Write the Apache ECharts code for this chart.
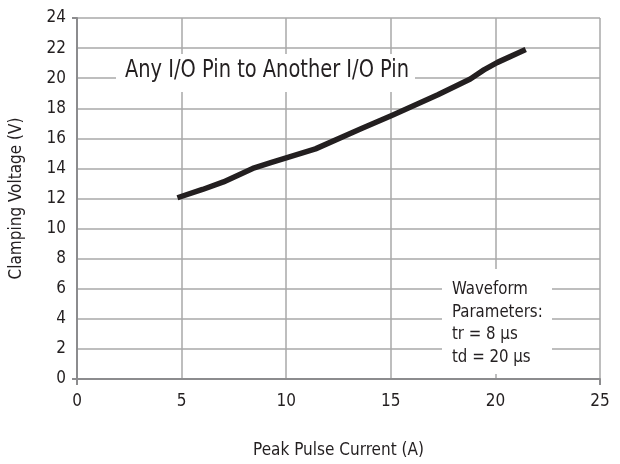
<!DOCTYPE html>
<html>
<head>
<meta charset="utf-8">
<script src="https://cdn.jsdelivr.net/npm/echarts@6/dist/echarts.min.js"></script>
<style>html,body{margin:0;padding:0;background:#fff}#c{width:620px;height:464px}</style>
</head>
<body>
<div id="c"></div>
<script>
// Data
const currentA = [4.8, 6.0, 7.0, 8.4, 9.3, 10.0, 11.4, 13.6, 15.1, 17.25, 18.8, 19.45, 20.1, 21.45];
const clampV   = [12.05, 12.6, 13.1, 14.0, 14.4, 14.7, 15.3, 16.65, 17.55, 18.9, 19.95, 20.55, 21.05, 21.9];
const xTitle = 'Peak Pulse Current (A)';
const yTitle = 'Clamping Voltage (V)';
const curveLabel = 'Any I/O Pin to Another I/O Pin';
const paramLines = ['Waveform', 'Parameters:', 'tr = 8 µs', 'td = 20 µs'];

const FONT = '"DejaVu Sans Condensed", "Liberation Sans Narrow", sans-serif';
const TXT = '#231f20';
const AXC = '#8c8c8e';
const GRC = '#a8a8a8';

const chart = echarts.init(document.getElementById('c'), null, {renderer: 'canvas'});
const grid = {left: 75, right: 20, top: 18, bottom: 81};
chart.setOption({
  animation: false,
  backgroundColor: '#fff',
  grid: grid,
  xAxis: [{
    type: 'value', min: 0, max: 25, interval: 5,
    name: xTitle, nameLocation: 'middle', nameGap: 63,
    nameTextStyle: {fontFamily: FONT, fontSize: 17, color: TXT},
    axisLine: {show: true, onZero: false, lineStyle: {color: AXC, width: 2}},
    axisTick: {show: false},
    axisLabel: {fontFamily: FONT, fontSize: 17, color: TXT, margin: 14},
    splitLine: {show: true, lineStyle: {color: GRC, width: 1.5}}
  }, {
    type: 'value', min: 0, max: 25, interval: 25, position: 'bottom',
    axisLine: {show: false}, axisLabel: {show: false}, splitLine: {show: false},
    axisTick: {show: true, inside: false, length: 6, lineStyle: {color: AXC, width: 2}}
  }],
  yAxis: [{
    type: 'value', min: 0, max: 24, interval: 2,
    name: yTitle, nameLocation: 'middle', nameGap: 52, nameRotate: 90,
    nameTextStyle: {fontFamily: FONT, fontSize: 17, color: TXT},
    axisLine: {show: true, onZero: false, lineStyle: {color: AXC, width: 2}},
    axisTick: {show: false},
    axisLabel: {fontFamily: FONT, fontSize: 17, color: TXT, margin: 11},
    splitLine: {show: true, lineStyle: {color: GRC, width: 1.5}}
  }, {
    type: 'value', min: 0, max: 24, interval: 24, position: 'left',
    axisLine: {show: false}, axisLabel: {show: false}, splitLine: {show: false},
    axisTick: {show: true, inside: false, length: 5, lineStyle: {color: AXC, width: 2}}
  }],
  series: [{
    type: 'line',
    xAxisIndex: 0, yAxisIndex: 0,
    data: currentA.map((x, i) => [x, clampV[i]]),
    showSymbol: false, symbol: 'none',
    lineStyle: {color: TXT, width: 5.5, cap: 'butt', join: 'round'},
    z: 5
  }],
  graphic: [
    {type: 'rect', left: 116, top: 54, shape: {width: 299, height: 38}, style: {fill: '#fff'}, z: 3},
    {type: 'text', x: 125, y: 59, scaleX: 0.9, style: {text: curveLabel, font: '24px ' + FONT, fill: TXT}, z: 4},
    {type: 'rect', left: 442, top: 269, shape: {width: 110, height: 105}, style: {fill: '#fff'}, z: 3},
    {type: 'text', x: 452, y: 278, scaleX: 0.9, style: {text: paramLines.join('\n'), font: '18.5px ' + FONT, fill: TXT, lineHeight: 22.5}, z: 4}
  ]
});
</script>
</body>
</html>
